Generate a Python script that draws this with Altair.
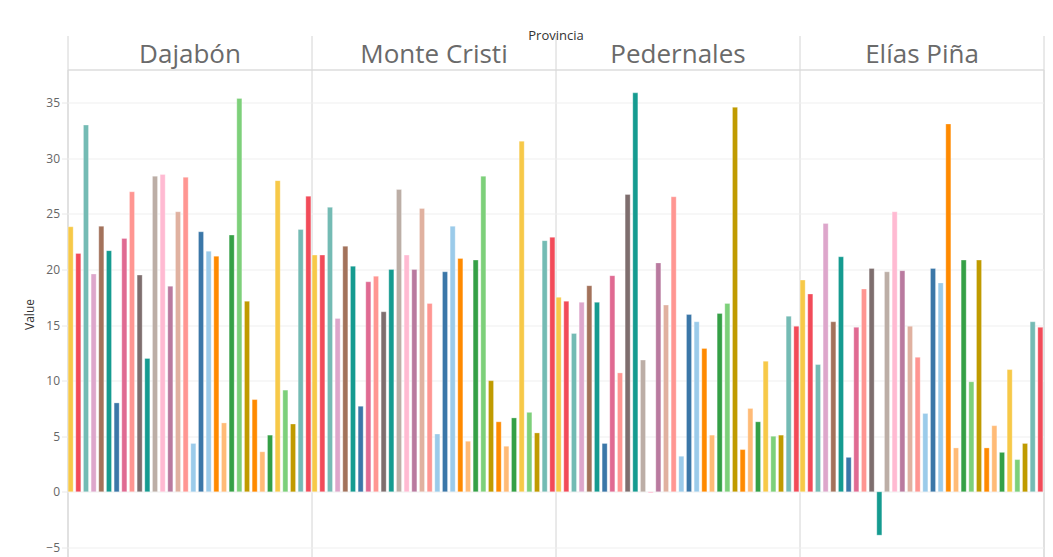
import altair as alt
import pandas as pd

provincias = ["Dajabón", "Monte Cristi", "Pedernales", "Elías Piña"]
indicadores = ["Indicador %02d" % i for i in range(1, 33)]

dajabon = [23.85, 21.45, 33.0, 19.6, 23.9, 21.7, 8.0, 22.8, 27.0, 19.5, 12.0, 28.4,
           28.55, 18.5, 25.2, 28.3, 4.35, 23.4, 21.65, 21.2, 6.2, 23.1, 35.4, 17.15,
           8.3, 3.6, 5.1, 28.0, 9.15, 6.1, 23.6, 26.6]
monte_cristi = [21.3, 21.3, 25.6, 15.6, 22.1, 20.3, 7.7, 18.9, 19.4, 16.2, 20.0, 27.2,
                21.3, 20.0, 25.5, 16.95, 5.2, 19.8, 23.9, 21.0, 4.55, 20.85, 28.4, 10.0,
                6.3, 4.1, 6.65, 31.55, 7.15, 5.3, 22.6, 22.9]
pedernales = [17.5, 17.15, 14.25, 17.05, 18.55, 17.05, 4.35, 19.45, 10.7, 26.75, 35.9, 11.85,
              -0.1, 20.6, 16.8, 26.55, 3.2, 15.95, 15.3, 12.9, 5.1, 16.05, 16.95, 34.6,
              3.8, 7.5, 6.3, 11.75, 5.0, 5.1, 15.8, 14.9]
elias_pina = [19.05, 17.8, 11.45, 24.15, 15.3, 21.15, 3.1, 14.8, 18.25, 20.1, -3.9, 19.8,
              25.2, 19.9, 14.9, 12.1, 7.05, 20.1, 18.8, 33.1, 3.95, 20.85, 9.9, 20.85,
              3.95, 5.95, 3.55, 11.0, 2.9, 4.35, 15.3, 14.8]
series = [dajabon, monte_cristi, pedernales, elias_pina]

# colour of each indicator, in x order
bar_colors = ["#F7C948", "#F24B59", "#74BBB4", "#DDA6CB", "#A3725B", "#159B90", "#3B77A8",
              "#E06A92", "#FF9692", "#7E6E6E", "#159B90", "#BCAEA6", "#FFBAD2", "#B97A9F",
              "#E0B1A0", "#FF9692", "#9BCBEA", "#3B77A8", "#9BCBEA", "#FF8A00", "#FFBB77",
              "#35A046", "#7DD07A", "#C09B00", "#FF8A00", "#FFBB77", "#35A046", "#F7C948",
              "#7DD07A", "#C09B00", "#74BBB4", "#F24B59"]

rows = []
for prov, vals in zip(provincias, series):
    for ind, v in zip(indicadores, vals):
        rows.append({"Provincia": prov, "Indicador": ind, "Value": v})
df = pd.DataFrame(rows)

FONT = "Open Sans"

chart = alt.Chart(df).mark_bar(stroke="#ffffff", strokeWidth=0.6, strokeOpacity=0.5).encode(
    x=alt.X("Provincia:N", sort=provincias,
            scale=alt.Scale(paddingInner=0, paddingOuter=0),
            axis=alt.Axis(orient="top", title="Provincia", tickBand="extent",
                          grid=True, gridColor="#d4d4d4", gridWidth=1,
                          ticks=True, tickSize=34, tickColor="#d4d4d4",
                          domain=True, domainColor="#dcdcdc",
                          labelFont=FONT, labelFontSize=26, labelColor="#6a6a6a",
                          labelAngle=0, labelBaseline="alphabetic", labelPadding=-27,
                          titleFont=FONT, titleFontSize=13, titleFontWeight="normal",
                          titleColor="#333333", titleY=-30, titleBaseline="alphabetic")),
    xOffset=alt.XOffset("Indicador:N", sort=indicadores,
                        scale=alt.Scale(paddingInner=0.34, paddingOuter=0.08)),
    y=alt.Y("Value:Q",
            scale=alt.Scale(domain=[-6, 38], nice=False, zero=False),
            axis=alt.Axis(values=[-5, 0, 5, 10, 15, 20, 25, 30, 35], title="Value",
                          grid=True, gridColor="#efefef", domain=False,
                          ticks=True, tickSize=6, tickColor="#e8e8e8",
                          labelFont=FONT, labelFontSize=12, labelColor="#666666",
                          labelPadding=2,
                          titleFont=FONT, titleFontSize=12, titleFontWeight="normal",
                          titleColor="#333333", titleX=-38, titleBaseline="middle")),
    color=alt.Color("Indicador:N", scale=alt.Scale(domain=indicadores, range=bar_colors),
                    legend=None),
).properties(
    width=976, height=489,
    padding={"left": 15.5, "top": 21.5, "right": 0, "bottom": 0},
).configure_view(stroke=None).configure(background="#ffffff")

chart.save("out.html", embed_options={"renderer": "svg", "actions": False})
